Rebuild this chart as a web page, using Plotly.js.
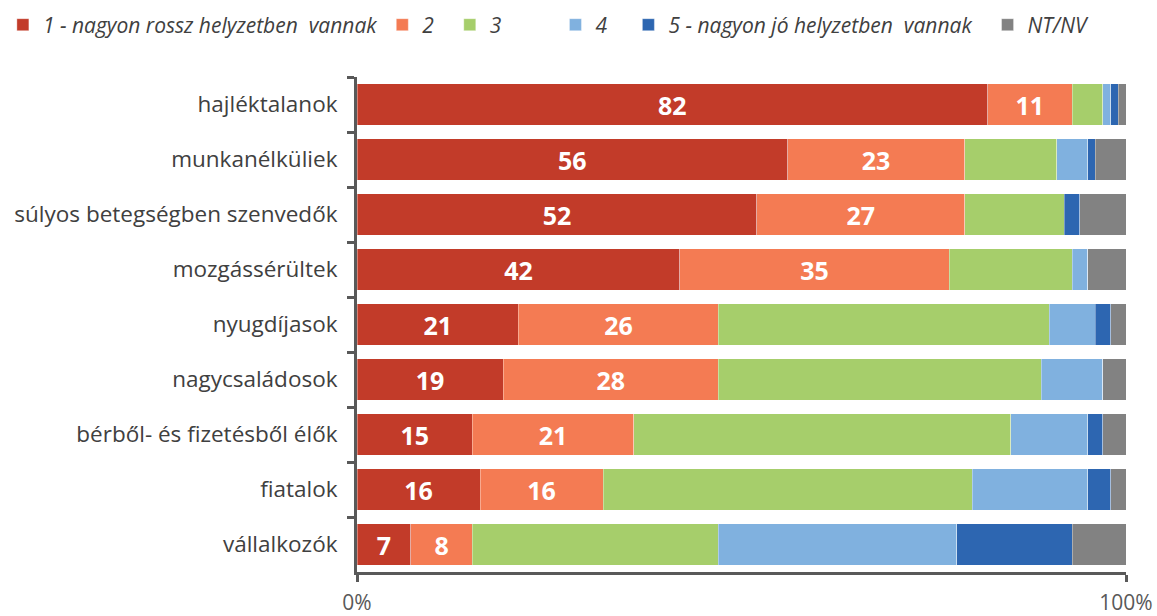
<!DOCTYPE html>
<html><head><meta charset="utf-8">
<script src="https://cdn.plot.ly/plotly-3.0.1.min.js"></script>
<style>body{margin:0;background:#fff}#chart{width:1157px;height:616px}</style>
</head><body><div id="chart"></div>
<script>
const categories = ["hajléktalanok","munkanélküliek","súlyos betegségben szenvedők","mozgássérültek","nyugdíjasok","nagycsaládosok","bérből- és fizetésből élők","fiatalok","vállalkozók"];
const seriesNames = ["1 - nagyon rossz helyzetben  vannak","2","3","4","5 - nagyon jó helyzetben  vannak","NT/NV"];
const s1 = [82,56,52,42,21,19,15,16,7];
const s2 = [11,23,27,35,26,28,21,16,8];
const s3 = [4,12,13,16,43,42,49,48,32];
const s4 = [1,4,0,2,6,8,10,15,31];
const s5 = [1,1,2,0,2,0,2,3,15];
const s6 = [1,4,6,5,2,3,3,2,7];
const colors = ["#C23B29","#F47B53","#A6CE6B","#80B1DF","#2D66B1","#828282"];
const xTickVals = [0,100];
const xTickText = ["0%","100%"];

// legend spacing (trailing non-breaking spaces)
const legendPad = [0,2,9,3,2,0];

const allSeries = [s1,s2,s3,s4,s5,s6];
const labelled = [true,true,false,false,false,false];
const traces = allSeries.map((vals,i)=>({
  type:"bar", orientation:"h", name:seriesNames[i] + "\u00a0".repeat(legendPad[i]),
  y:categories, x:vals,
  marker:{color:colors[i], line:{color:"rgba(255,255,255,0.35)", width:1}},
  text: labelled[i] ? vals.map(String) : undefined,
  texttemplate: labelled[i] ? "%{text}" : undefined,
  textposition: labelled[i] ? "inside" : "none",
  insidetextanchor:"middle",
  textfont:{family:"Open Sans", size:25, color:"#ffffff", weight:"bold"},
  hoverinfo:"none", cliponaxis:false
}));

const layout = {
  width:1157, height:616,
  margin:{l:357, r:31, t:77, b:44, autoexpand:false},
  barmode:"stack", bargap:0.25,
  paper_bgcolor:"#fff", plot_bgcolor:"#fff",
  font:{family:"Open Sans", color:"#404040"},
  showlegend:true,
  legend:{orientation:"h", x:-0.4605, xanchor:"left", y:1.105, yanchor:"middle",
    font:{family:"Open Sans", size:21, color:"#404040", style:"italic"},
    traceorder:"normal", itemwidth:30},
  xaxis:{range:[0,100], showgrid:false, zeroline:false, showline:true, linewidth:3, linecolor:"#595959",
    tickvals:xTickVals, ticktext:xTickText, ticks:"outside", ticklen:7, tickwidth:3, tickcolor:"#595959",
    tickfont:{family:"Open Sans", size:21, color:"#595959"}, ticklabelstandoff:3},
  yaxis:{autorange:"reversed", type:"category", showgrid:false, showline:true, linewidth:3, linecolor:"#595959",
    ticks:"outside", tickson:"boundaries", ticklen:7, tickwidth:3, tickcolor:"#595959",
    tickfont:{family:"Open Sans", size:22.5, color:"#404040"}, ticklabelstandoff:12}
};
Plotly.newPlot("chart", traces, layout, {staticPlot:true, displayModeBar:false});
</script></body></html>
